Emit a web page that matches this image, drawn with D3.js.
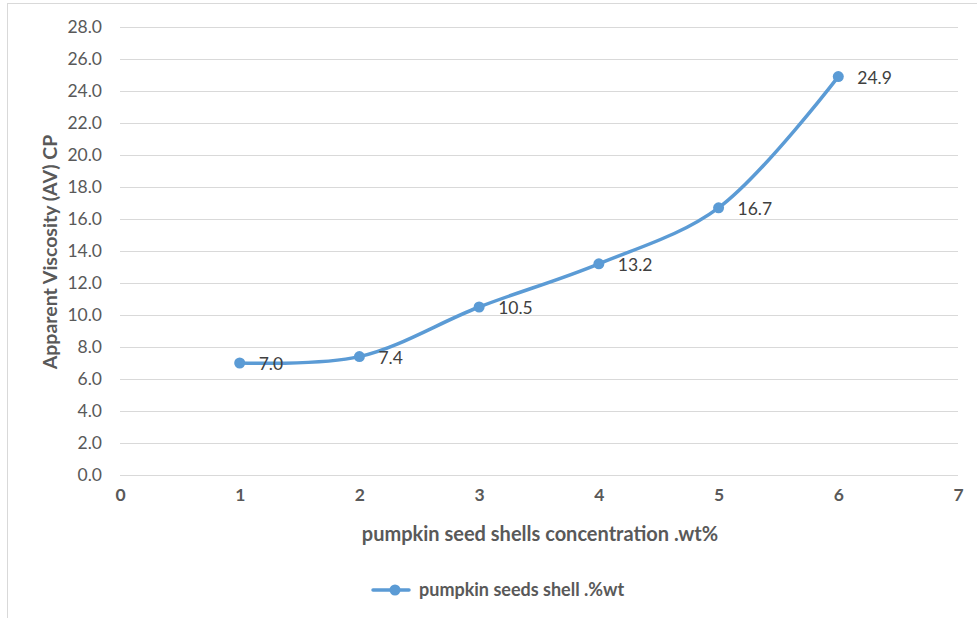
<!DOCTYPE html>
<html>
<head>
<meta charset="utf-8">
<script src="https://cdn.jsdelivr.net/npm/d3@7"></script>
<style>
  html, body { margin: 0; padding: 0; background: #fff; }
  svg { display: block; font-family: Lato, "Open Sans", sans-serif; }
</style>
</head>
<body>
<svg id="chart" width="977" height="618"></svg>
<script>
// Apparent viscosity against pumpkin seed shell concentration
const concentrations = [1, 2, 3, 4, 5, 6];
const viscosity = [7.0, 7.4, 10.5, 13.2, 16.7, 24.9];
const yTicks = [0, 2, 4, 6, 8, 10, 12, 14, 16, 18, 20, 22, 24, 26, 28];
const xTicks = [0, 1, 2, 3, 4, 5, 6, 7];
const seriesName = "pumpkin seeds shell .%wt";
const xTitle = "pumpkin seed shells concentration .wt%";
const yTitle = "Apparent Viscosity (AV) CP";

const svg = d3.select("#chart");
const blue = "#5B9BD5";
const textGray = "#595959";
const font = "Lato, 'Open Sans', sans-serif";

// outer frame
svg.append("rect")
  .attr("x", 7.5).attr("y", 3.5)
  .attr("width", 985).attr("height", 640)
  .attr("fill", "none").attr("stroke", "#d9d9d9").attr("stroke-width", 1);

const x = d3.scaleLinear().domain([0, 7]).range([120, 958]);
const y = d3.scaleLinear().domain([0, 28]).range([475, 27]);

// horizontal gridlines
svg.append("g")
  .selectAll("line")
  .data(yTicks)
  .join("line")
  .attr("x1", x(0)).attr("x2", x(7))
  .attr("y1", d => Math.round(y(d)) + 0.5)
  .attr("y2", d => Math.round(y(d)) + 0.5)
  .attr("stroke", "#d9d9d9").attr("stroke-width", 1);

// y axis labels
const yAxis = d3.axisLeft(y).tickValues(yTicks).tickFormat(d3.format(".1f")).tickSize(0).tickPadding(18);
svg.append("g")
  .attr("transform", `translate(${x(0)},0)`)
  .call(yAxis)
  .call(g => g.select(".domain").remove())
  .call(g => g.selectAll("text")
    .attr("fill", textGray).attr("font-size", 17.5)
    .attr("font-family", font));

// x axis labels
const xAxis = d3.axisBottom(x).tickValues(xTicks).tickFormat(d3.format("d")).tickSize(0).tickPadding(14);
svg.append("g")
  .attr("transform", `translate(0,${y(0)})`)
  .call(xAxis)
  .call(g => g.select(".domain").remove())
  .call(g => g.selectAll("text")
    .attr("fill", textGray).attr("font-size", 17.5).attr("font-weight", "bold")
    .attr("font-family", font));

// axis titles
svg.append("text")
  .attr("x", 540).attr("y", 541)
  .attr("text-anchor", "middle")
  .attr("fill", textGray).attr("font-size", 20).attr("font-weight", "bold")
  .text(xTitle);

svg.append("text")
  .attr("transform", `translate(57,${(y(0) + y(28)) / 2 + 1}) rotate(-90)`)
  .attr("text-anchor", "middle")
  .attr("fill", textGray).attr("font-size", 19.5).attr("font-weight", "bold")
  .text(yTitle);

// smoothed series line
const pts = concentrations.map((c, i) => [c, viscosity[i]]);
const line = d3.line()
  .x(d => x(d[0])).y(d => y(d[1]))
  .curve(d3.curveCatmullRom.alpha(0.5));

svg.append("path")
  .datum(pts)
  .attr("d", line)
  .attr("fill", "none").attr("stroke", blue)
  .attr("stroke-width", 3.5).attr("stroke-linecap", "round");

svg.append("g")
  .selectAll("circle")
  .data(pts)
  .join("circle")
  .attr("cx", d => x(d[0])).attr("cy", d => y(d[1]))
  .attr("r", 5.5).attr("fill", blue);

// value labels
svg.append("g")
  .selectAll("text")
  .data(pts)
  .join("text")
  .attr("x", d => x(d[0]) + 19)
  .attr("y", d => y(d[1]) + 7)
  .attr("fill", "#404040").attr("font-size", 17.5)
  .text(d => d[1].toFixed(1));

// legend
const lg = svg.append("g").attr("transform", "translate(0,590)");
lg.append("line")
  .attr("x1", 373).attr("x2", 409).attr("y1", 0).attr("y2", 0)
  .attr("stroke", blue).attr("stroke-width", 3.5).attr("stroke-linecap", "round");
lg.append("circle").attr("cx", 395).attr("cy", 0).attr("r", 5.5).attr("fill", blue);
lg.append("text")
  .attr("x", 419).attr("y", 6)
  .attr("fill", textGray).attr("font-size", 18).attr("font-weight", "bold")
  .text(seriesName);
</script>
</body>
</html>
